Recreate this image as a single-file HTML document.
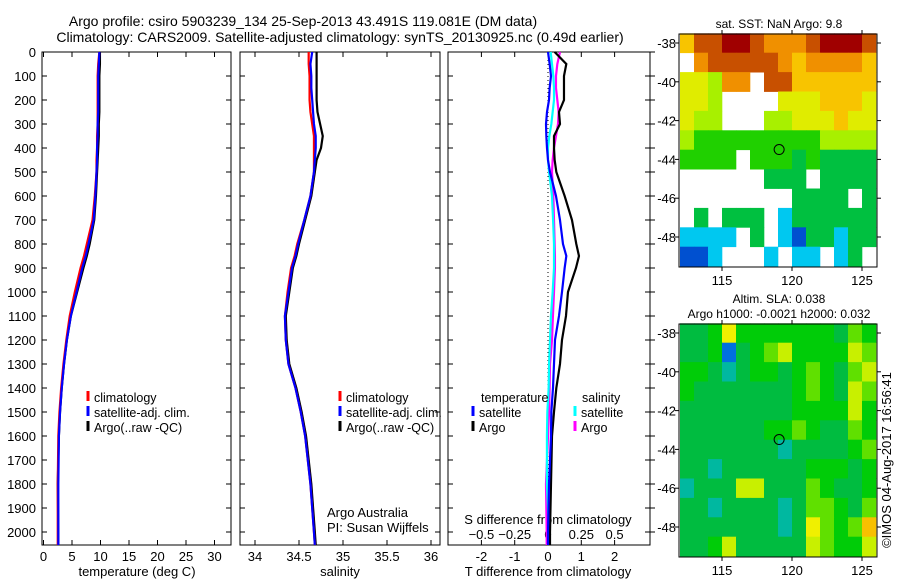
<!DOCTYPE html>
<html><head><meta charset="utf-8"><style>
html,body{margin:0;padding:0;background:#fff;}
svg{display:block;font-family:"Liberation Sans",sans-serif;}
text{font-size:13px;fill:#000;}
</style></head><body>
<svg id="fig" width="900" height="580" xmlns="http://www.w3.org/2000/svg">
<text x="303" y="26" text-anchor="middle" style="font-size:14px">Argo profile: csiro 5903239_134 25-Sep-2013 43.491S 119.081E (DM data)</text>
<text x="340" y="42" text-anchor="middle" style="font-size:14px">Climatology: CARS2009. Satellite-adjusted climatology: synTS_20130925.nc (0.49d earlier)</text>
<g id="g"></g>
</svg>
<script>
// ---- profile data ----
const depths=[0,50,100,150,200,250,300,350,400,450,500,600,700,800,850,900,1000,1100,1200,1300,1400,1500,1600,1800,2000,2054];
const tempArgo=[9.9,9.9,9.8,9.8,9.8,9.8,9.7,9.7,9.6,9.5,9.4,9.2,8.9,8.1,7.6,7.0,5.9,4.8,4.1,3.6,3.2,2.9,2.7,2.5,2.6,2.6];
const tempClim=[9.8,9.6,9.5,9.5,9.5,9.5,9.5,9.4,9.4,9.3,9.3,9.0,8.6,7.6,7.1,6.5,5.5,4.6,4.0,3.5,3.1,2.8,2.6,2.5,2.5,2.5];
const tempSat=[9.8,9.7,9.6,9.6,9.6,9.6,9.5,9.5,9.4,9.4,9.3,9.1,8.8,7.9,7.4,6.8,5.8,4.8,4.1,3.6,3.2,2.9,2.7,2.6,2.6,2.6];
const salArgo=[34.70,34.70,34.70,34.70,34.70,34.71,34.74,34.77,34.75,34.70,34.68,34.64,34.57,34.50,34.47,34.43,34.39,34.35,34.36,34.39,34.47,34.53,34.58,34.64,34.68,34.69];
const salClim=[34.61,34.61,34.62,34.62,34.62,34.63,34.65,34.67,34.67,34.67,34.67,34.63,34.56,34.48,34.45,34.41,34.37,34.34,34.35,34.38,34.46,34.52,34.57,34.63,34.67,34.68];
const salSat=[34.65,34.63,34.64,34.64,34.65,34.66,34.67,34.69,34.69,34.68,34.67,34.63,34.56,34.49,34.46,34.42,34.38,34.34,34.35,34.38,34.46,34.52,34.57,34.63,34.67,34.68];
const tDiffArgo=[0.2,0.55,0.48,0.48,0.48,0.33,0.36,0.18,0.18,0.2,0.25,0.5,0.72,0.85,0.93,0.84,0.6,0.54,0.42,0.36,0.25,0.18,0.12,0.09,0.06,0.06];
const tDiffSat=[0.0,0.05,0.09,0.05,0.03,-0.03,-0.06,-0.05,-0.03,0.0,0.06,0.24,0.36,0.45,0.55,0.5,0.42,0.33,0.21,0.18,0.15,0.1,0.09,0.03,0.0,0.0];
const sDiffArgo=[0.09,0.07,0.06,0.06,0.07,0.08,0.075,0.06,0.045,0.035,0.03,0.04,0.045,0.05,0.052,0.052,0.045,0.037,0.03,0.015,0.012,0.008,0.0,-0.015,-0.01,-0.01];
const sDiffSat=[0.02,0.03,0.04,0.045,0.045,0.035,0.025,0.01,0.0,0.0,0.008,0.03,0.038,0.045,0.045,0.045,0.035,0.022,0.015,0.008,0.005,-0.005,-0.008,-0.008,0.008,0.008];
const depthTicks=[0,100,200,300,400,500,600,700,800,900,1000,1100,1200,1300,1400,1500,1600,1700,1800,1900,2000];
const tempTicks=[0,5,10,15,20,25,30];
const salTicks=[34,34.5,35,35.5,36];
const salTickLabels=["34","34.5","35","35.5","36"];
const tdTicks=[-2,-1,0,1,2];
const sdTicks=[-0.5,-0.25,0,0.25,0.5];
// ---- map data (1-degree cells, lat -37.5 .. -49.5 rows, lon 112..126 cols), '.'=no data ----
const sstRows=["68899877789998",".7888887677776","55477.88666666","554....5556665","544...44555655","43333333334444","3333.333232222","......222.2222","........2222.2",".2.222.1222222","1111.2.1022122","001...1.11.12."];
const slaRows=["22363333333243","22302345333354","33212332343245","32222222343254","22222222333353","22222233432243","22222221222234","22122222233323","12225522243223","22122221244324","22222221264347","22352222254335"];
const sstColors=["#0050d0","#00c8f0","#00c040","#20d000","#a8f000","#e0ec00","#f8c400","#f09000","#c85000","#a00000"];
const slaColors=["#0070e0","#00b8a0","#00bc40","#00cc08","#60e000","#c8f000","#f0f000","#f8c000"];
const lonTicks=[115,120,125];
const latTicks=[38,40,42,44,46,48];

const NS="http://www.w3.org/2000/svg";
const G=document.getElementById('g');
function mk(tag,attrs,parent){const e=document.createElementNS(NS,tag);for(const k in attrs)e.setAttribute(k,attrs[k]);(parent||G).appendChild(e);return e;}
function txt(s,x,y,anchor,parent){const t=mk('text',{x:x,y:y,'text-anchor':anchor||'start'},parent);t.textContent=s;return t;}

const yTop=52,yBot=545;
function yD(d){return yTop+d*0.24;}
const panels=[
 {x0:42,x1:231,f:v=>43.5+v*5.7,name:'temperature'},
 {x0:240,x1:440,f:v=>255+(v-34)*88,name:'salinity'},
 {x0:448,x1:650,f:v=>548+v*33.3,name:'difference'}
];
panels.forEach((p,i)=>{
 const r=mk('rect',{x:p.x0,y:yTop,width:p.x1-p.x0,height:yBot-yTop,fill:'none',stroke:'#000','stroke-width':1});
 
 
 depthTicks.forEach(d=>{
  mk('line',{x1:p.x0,x2:p.x0+5,y1:yD(d),y2:yD(d),stroke:'#000'});
  mk('line',{x1:p.x1,x2:p.x1-5,y1:yD(d),y2:yD(d),stroke:'#000'});
 });
});
depthTicks.forEach(d=>{mk('line',{x1:650,x2:655,y1:yD(d),y2:yD(d),stroke:'#000'});});
depthTicks.forEach(d=>{const t=txt(String(d),36,yD(d)+5,'end');
 
 });
function xticks(p,ticks,labels,yl){ticks.forEach((v,i)=>{const x=p.f(v);
 mk('line',{x1:x,x2:x,y1:yBot,y2:yBot-5,stroke:'#000'});mk('line',{x1:x,x2:x,y1:yTop,y2:yTop+5,stroke:'#000'});
 const t=txt(labels[i],x,yl,'middle');
 
 });}
xticks(panels[0],tempTicks,tempTicks.map(String),561);
xticks(panels[1],salTicks,salTickLabels,561);
xticks(panels[2],tdTicks,tdTicks.map(String),561);
sdTicks.forEach(v=>{const x=panels[2].f(v*4);
 const t=txt(v===0?'0':String(v).replace('-','\u2212'),x,539,'middle');
 
 });
[['temperature (deg C)',137],['salinity',340],['T difference from climatology',548]].forEach(a=>{const t=txt(a[0],a[1],576,'middle');
 
 });
{const t=txt('S difference from climatology',548,524,'middle');}
{const t=txt('Argo Australia',327,517);}
{const t=txt('PI: Susan Wijffels',327,532);}

{const l=mk('line',{x1:548,x2:548,y1:yTop,y2:yBot,stroke:'#000','stroke-dasharray':'1,3'});}

function profile(p,vals,scale,color,name){
 const pts=vals.map((v,i)=>p.f(v*scale)+','+yD(depths[i])).join(' ');
 const pl=mk('polyline',{points:pts,fill:'none',stroke:color,'stroke-width':2.2});
 
 
}
profile(panels[0],tempArgo,1,'#000','temp-argo-line');
profile(panels[0],tempClim,1,'#f00','temp-climatology-line');
profile(panels[0],tempSat,1,'#00f','temp-satellite-line');
profile(panels[1],salArgo,1,'#000','sal-argo-line');
profile(panels[1],salClim,1,'#f00','sal-climatology-line');
profile(panels[1],salSat,1,'#00f','sal-satellite-line');
profile(panels[2],sDiffArgo,4,'#f0f','sdiff-argo-line');
profile(panels[2],sDiffSat,4,'#0ff','sdiff-satellite-line');
profile(panels[2],tDiffArgo,1,'#000','tdiff-argo-line');
profile(panels[2],tDiffSat,1,'#00f','tdiff-satellite-line');

function legend(x,y,color,label,name){
 const g=mk('g',{});
 mk('line',{x1:x,x2:x,y1:y-11,y2:y-1,stroke:color,'stroke-width':3},g);const t=txt(label,x+6,y,'start',g);t.style.fontSize='12.5px';}
[[88,'#f00','climatology'],[88,'#00f','satellite-adj. clim.'],[88,'#000','Argo(..raw -QC)']].forEach((a,i)=>{
 legend(a[0],402+i*15,a[1],a[2],'legend-temp-'+i);legend(a[0]+252,402+i*15,a[1],a[2],'legend-sal-'+i);});
{const t=txt('temperature',481,402);t.style.fontSize='12.5px';}
{const t=txt('salinity',582,402);t.style.fontSize='12.5px';}
legend(473,417,'#00f','satellite','legend-tdiff-sat');legend(473,432,'#000','Argo','legend-tdiff-argo');
legend(575,417,'#0ff','satellite','legend-sdiff-sat');legend(575,432,'#f0f','Argo','legend-sdiff-argo');

function map(y0,rows,colors,name,titleLines){
 const x0=679,x1=877,y1=y0+233;
 const lx=lon=>680+(lon-112)*14, ly=lat=>y0+9+(lat-38)*19.4;
 const g=mk('g',{});
 rows.forEach((row,r)=>{for(let c=0;c<row.length;c++){const ch=row[c];if(ch==='.')continue;
  const lat=37.5+r, lon=112+c;
  const cell=mk('rect',{x:lx(lon),y:ly(lat),width:14.3,height:19.8,fill:colors[+ch]},g);
  
  }});
 mk('rect',{x:x0,y:y0,width:x1-x0,height:y1-y0,fill:'none',stroke:'#000'},g);
 lonTicks.forEach(l=>{const x=lx(l);mk('line',{x1:x,x2:x,y1:y0,y2:y0-4,stroke:'#000'},g);mk('line',{x1:x,x2:x,y1:y1,y2:y1+4,stroke:'#000'},g);
  const t=txt(String(l),x,y1+18,'middle',g);t.style.fontSize='13px';});
 latTicks.forEach(l=>{const y=ly(l);mk('line',{x1:x0,x2:x0-4,y1:y,y2:y,stroke:'#000'},g);mk('line',{x1:x1,x2:x1+4,y1:y,y2:y,stroke:'#000'},g);
  const t=txt('-'+l,x0-3,y+5,'end',g);t.style.fontSize='13px';});
 mk('circle',{cx:lx(119.081),cy:ly(43.491),r:5,fill:'none',stroke:'#000'},g);
 titleLines.forEach((s,i)=>{const t=txt(s,779,y0-(titleLines.length-1-i)*15-6,'middle',g);t.style.fontSize='12px';});
}
map(34,sstRows,sstColors,'sst-map',['sat. SST: NaN Argo: 9.8']);
map(324,slaRows,slaColors,'sla-map',['Altim. SLA: 0.038','Argo h1000: -0.0021 h2000: 0.032']);
{const t=mk('text',{x:0,y:0,transform:'translate(891,460) rotate(-90)','text-anchor':'middle'});t.textContent='\u00A9IMOS 04-Aug-2017 16:56:41';
 }
</script>
</body></html>
